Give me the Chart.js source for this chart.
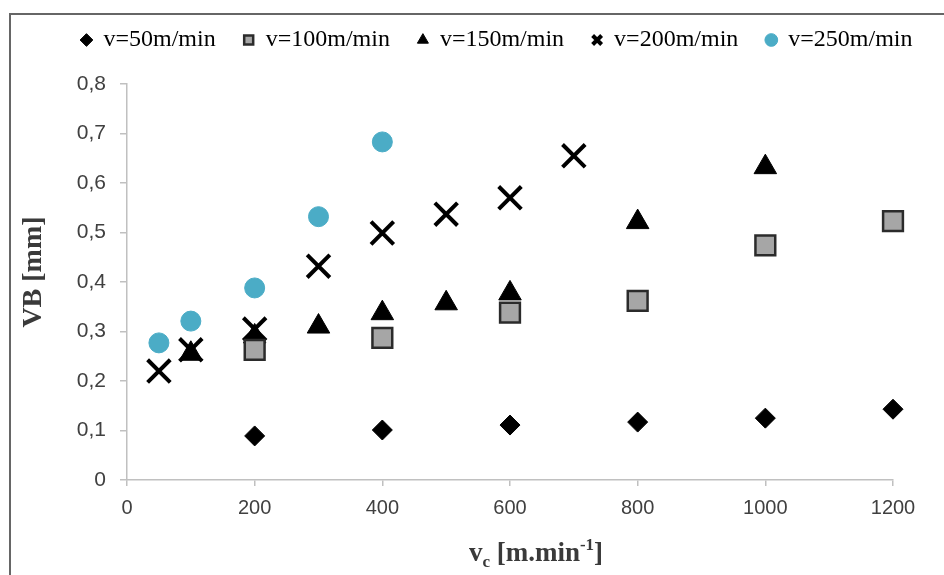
<!DOCTYPE html>
<html>
<head>
<meta charset="utf-8">
<script src="https://cdn.jsdelivr.net/npm/chart.js@4"></script>
<style>
  html, body { margin: 0; padding: 0; background: #fff; }
  #wrap { position: relative; width: 944px; height: 575px; overflow: hidden; }
  #frame { position: absolute; left: 9px; top: 13px; width: 960px; height: 600px;
           border-top: 2px solid #666; border-left: 2px solid #666; }
  #vbChart { position: absolute; left: 0; top: 0; }
</style>
</head>
<body>
<div id="wrap">
  <div id="frame"></div>
  <canvas id="vbChart" width="944" height="575"></canvas>
</div>
<script>
// Datos (VB frente a vc)
const seriesNames = ['v=50m/min', 'v=100m/min', 'v=150m/min', 'v=200m/min', 'v=250m/min'];

const vc50 = [200, 400, 600, 800, 1000, 1200];
const vb50 = [0.089, 0.101, 0.111, 0.117, 0.125, 0.143];

const vc100 = [200, 400, 600, 800, 1000, 1200];
const vb100 = [0.263, 0.287, 0.338, 0.362, 0.474, 0.523];

const vc150 = [100, 200, 300, 400, 500, 600, 800, 1000];
const vb150 = [0.255, 0.29, 0.31, 0.337, 0.357, 0.377, 0.521, 0.632];

const vc200 = [50, 100, 200, 300, 400, 500, 600, 700];
const vb200 = [0.22, 0.263, 0.305, 0.432, 0.499, 0.537, 0.57, 0.655];

const vc250 = [50, 100, 200, 300, 400];
const vb250 = [0.277, 0.321, 0.388, 0.532, 0.683];

const yTickLabels = ['0', '0,1', '0,2', '0,3', '0,4', '0,5', '0,6', '0,7', '0,8'];
const xTickLabels = ['0', '200', '400', '600', '800', '1000', '1200'];

const toPoints = (xs, ys) => xs.map((x, i) => ({ x: x, y: ys[i] }));

// Títulos de los ejes (con subíndice y superíndice)
const axisTitles = {
  id: 'axisTitles',
  afterDraw(chart) {
    const ctx = chart.ctx;
    ctx.save();
    ctx.fillStyle = '#3a3a3a';
    ctx.textBaseline = 'alphabetic';

    // eje y
    ctx.font = 'bold 28px "Liberation Serif"';
    ctx.translate(41, 272);
    ctx.rotate(-Math.PI / 2);
    ctx.textAlign = 'center';
    ctx.fillText('VB [mm]', 0, 0);
    ctx.setTransform(1, 0, 0, 1, 0, 0);

    // eje x
    const parts = [
      { t: 'v', size: 27, dy: 0 },
      { t: 'c', size: 17, dy: 6 },
      { t: ' [m.min', size: 27, dy: 0 },
      { t: '-1', size: 17, dy: -11 },
      { t: ']', size: 27, dy: 0 }
    ];
    ctx.textAlign = 'left';
    let total = 0;
    parts.forEach(p => {
      ctx.font = 'bold ' + p.size + 'px "Liberation Serif"';
      p.w = ctx.measureText(p.t).width;
      total += p.w;
    });
    let x = 536 - total / 2;
    parts.forEach(p => {
      ctx.font = 'bold ' + p.size + 'px "Liberation Serif"';
      ctx.fillText(p.t, x, 561 + p.dy);
      x += p.w;
    });
    ctx.restore();
  }
};

const ctx = document.getElementById('vbChart').getContext('2d');

const vbChart = new Chart(ctx, {
  type: 'scatter',
  data: {
    datasets: [
      {
        label: seriesNames[0],
        data: toPoints(vc50, vb50),
        pointStyle: 'rectRot',
        pointRadius: 10,
        backgroundColor: '#000',
        borderColor: '#000',
        borderWidth: 1,
        clip: false
      },
      {
        label: seriesNames[1],
        data: toPoints(vc100, vb100),
        pointStyle: 'rect',
        pointRadius: 14,
        backgroundColor: '#a6a6a6',
        borderColor: '#2b2b2b',
        borderWidth: 2.5,
        clip: false
      },
      {
        label: seriesNames[2],
        data: toPoints(vc150, vb150),
        pointStyle: 'triangle',
        pointRadius: 13,
        backgroundColor: '#000',
        borderColor: '#000',
        borderWidth: 1,
        clip: false
      },
      {
        label: seriesNames[3],
        data: toPoints(vc200, vb200),
        pointStyle: 'crossRot',
        pointRadius: 16,
        backgroundColor: '#000',
        borderColor: '#000',
        borderWidth: 4,
        clip: false
      },
      {
        label: seriesNames[4],
        data: toPoints(vc250, vb250),
        pointStyle: 'circle',
        pointRadius: 10,
        backgroundColor: '#4bacc6',
        borderColor: '#4bacc6',
        borderWidth: 1,
        clip: false
      }
    ]
  },
  options: {
    responsive: false,
    animation: false,
    layout: { padding: { left: 50, right: 0, top: 0, bottom: 0 } },
    plugins: {
      tooltip: { enabled: false },
      legend: {
        position: 'top',
        align: 'center',
        labels: {
          usePointStyle: true,
          boxWidth: 10,
          boxHeight: 9,
          padding: 28,
          color: '#000',
          font: { family: '"Liberation Serif"', size: 24 }
        }
      }
    },
    scales: {
      x: {
        type: 'linear',
        position: 'bottom',
        min: 0,
        max: 1200,
        afterFit: s => { s.height = 95; },
        ticks: {
          stepSize: 200,
          padding: 10,
          color: '#404040',
          font: { family: '"Liberation Sans"', size: 20 },
          callback: (v, i) => xTickLabels[i]
        },
        grid: { drawOnChartArea: false, drawTicks: true, tickLength: 6, color: '#c0c0c0', lineWidth: 1.5 },
        border: { color: '#c0c0c0', width: 1.5 }
      },
      y: {
        type: 'linear',
        position: 'left',
        min: 0,
        max: 0.8,
        afterFit: s => { s.width = 77; },
        ticks: {
          stepSize: 0.1,
          padding: 14,
          color: '#404040',
          font: { family: '"Liberation Sans"', size: 21 },
          callback: (v, i) => yTickLabels[i]
        },
        grid: { drawOnChartArea: false, drawTicks: true, tickLength: 7, color: '#c0c0c0', lineWidth: 1.5 },
        border: { color: '#c0c0c0', width: 1.5 }
      },
      xTop: {
        type: 'linear',
        axis: 'x',
        position: 'top',
        display: true,
        afterFit: s => { s.height = 22; },
        ticks: { display: false },
        grid: { display: false },
        border: { display: false }
      },
      yRight: {
        type: 'linear',
        axis: 'y',
        position: 'right',
        display: true,
        afterFit: s => { s.width = 51; },
        ticks: { display: false },
        grid: { display: false },
        border: { display: false }
      }
    }
  },
  plugins: [axisTitles]
});
</script>
</body>
</html>
